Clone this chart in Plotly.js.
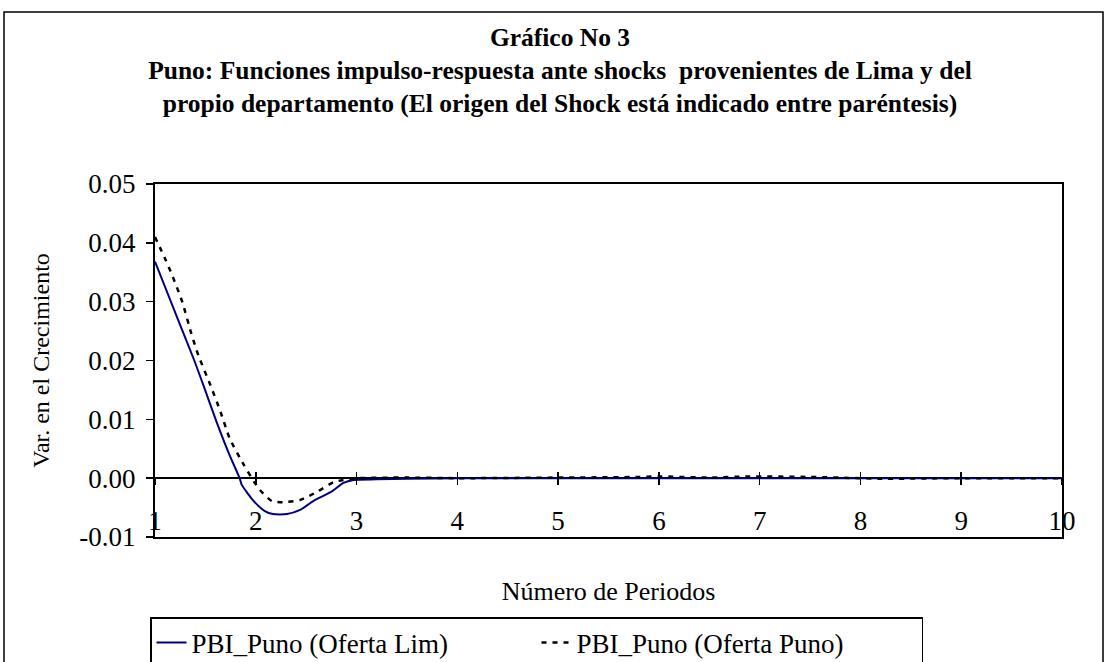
<!DOCTYPE html>
<html>
<head>
<meta charset="utf-8">
<script src="https://cdn.plot.ly/plotly-3.0.1.min.js"></script>
<style>html,body{margin:0;padding:0;background:#fff;}#chart{width:1107px;height:662px;}</style>
</head>
<body>
<div id="chart"></div>
<script>
// Data
const limaX = [1.00, 1.25, 1.39, 1.48, 1.61, 1.74, 1.84, 1.86, 1.98, 2.09, 2.17, 2.31, 2.44, 2.57, 2.75, 2.87, 2.97, 3.2, 3.5, 4, 5, 6, 7, 8, 9, 10];
const limaY = [0.0368, 0.0260, 0.0200, 0.0158, 0.0096, 0.0039, 0.0000, -0.0011, -0.0039, -0.0056, -0.0061, -0.0061, -0.0054, -0.0039, -0.0023, -0.0008, -0.0003, -0.0002, -0.0001, 0.0000, 0.0000, 0.0000, 0.0000, 0.0000, 0.0000, 0.0000];

const punoX = [1.00, 1.10, 1.17, 1.27, 1.36, 1.43, 1.55, 1.65, 1.74, 1.88, 1.99, 2.04, 2.16, 2.27, 2.44, 2.61, 2.77, 2.87, 3.00, 3.5, 4, 5, 5.8, 6.0, 6.5, 6.9, 7.5, 8, 8.2, 9, 10];
const punoY = [0.0410, 0.0373, 0.0345, 0.0300, 0.0246, 0.0209, 0.0158, 0.0113, 0.0068, 0.0023, -0.0008, -0.0020, -0.0039, -0.0041, -0.0037, -0.0023, -0.0007, -0.0003, 0.0000, 0.0001, 0.0000, 0.0001, 0.0002, 0.0003, 0.0001, 0.0003, 0.0002, 0.0000, -0.0001, 0.0000, 0.0000];

const seriesNames = ["PBI_Puno (Oferta Lim)", "PBI_Puno (Oferta Puno)"];
const xTickVals = [1, 2, 3, 4, 5, 6, 7, 8, 9, 10];
const xTickText = ["1", "2", "3", "4", "5", "6", "7", "8", "9", "10"];
const yTickVals = [-0.01, 0.00, 0.01, 0.02, 0.03, 0.04, 0.05];
const yTickText = ["-0.01", "0.00", "0.01", "0.02", "0.03", "0.04", "0.05"];
const xRange = [1, 10];
const yRange = [-0.01, 0.05];

const titleText = "<b>Gráfico No 3</b><br><b>Puno: Funciones impulso-respuesta ante shocks  provenientes de Lima y del</b><br><b>propio departamento (El origen del Shock está indicado entre paréntesis)</b>";
const xTitle = "Número de Periodos";
const yTitle = "Var. en el Crecimiento";

// Layout geometry
const W = 1107, H = 662;
const M = {l: 155, r: 45, t: 184, b: 125, autoexpand: false};
const PW = W - M.l - M.r, PH = H - M.t - M.b;
const px2x = p => (p - M.l) / PW;
const py2y = p => (H - M.b - p) / PH;

const FONT = "Liberation Serif, Times New Roman, serif";
const zeroPos = (0 - yRange[0]) / (yRange[1] - yRange[0]);

const traces = [
  {x: limaX, y: limaY, name: seriesNames[0], type: "scatter", mode: "lines",
   line: {color: "#000080", width: 2, shape: "spline", smoothing: 0.6}},
  {x: punoX, y: punoY, name: seriesNames[1], type: "scatter", mode: "lines",
   line: {color: "#000000", width: 2.5, dash: "5px,6px", shape: "spline", smoothing: 0.6}},
  {x: [], y: [], xaxis: "x2", showlegend: false, hoverinfo: "skip"},
  {x: [], y: [], xaxis: "x3", showlegend: false, hoverinfo: "skip"}
];

const baseTickAxis = {
  overlaying: "x", anchor: "free", position: zeroPos, side: "bottom",
  range: xRange, tickmode: "array", tickvals: xTickVals, ticktext: xTickText,
  showline: false, showgrid: false, zeroline: false,
  tickcolor: "#000", tickwidth: 1.5, ticklen: 6
};

const layout = {
  width: W, height: H,
  margin: M,
  paper_bgcolor: "#fff", plot_bgcolor: "#fff",
  font: {family: FONT, color: "#000", size: 22},
  showlegend: true,
  title: {text: titleText, font: {family: FONT, size: 25.5, color: "#000"},
          xref: "container", x: 560 / W, xanchor: "center",
          yref: "container", y: 1 - 46 / H, yanchor: "middle"},
  xaxis: {range: xRange, showline: true, mirror: true, linecolor: "#000", linewidth: 2,
          ticks: "", showticklabels: false, showgrid: false, zeroline: false,
          title: {text: xTitle, font: {size: 26}, standoff: 44}, automargin: false},
  xaxis2: Object.assign({}, baseTickAxis, {ticks: "outside", showticklabels: true,
          tickfont: {size: 27, family: FONT, color: "#000"}, ticklabelstandoff: 12}),
  xaxis3: Object.assign({}, baseTickAxis, {ticks: "inside", showticklabels: false}),
  yaxis: {range: yRange, showline: true, mirror: true, linecolor: "#000", linewidth: 2,
          tickmode: "array", tickvals: yTickVals, ticktext: yTickText,
          ticks: "outside", ticklen: 7, tickwidth: 1.5, tickcolor: "#000",
          tickfont: {size: 27, family: FONT, color: "#000"}, ticklabelstandoff: 5,
          showgrid: false, zeroline: true, zerolinecolor: "#000", zerolinewidth: 2,
          title: {text: yTitle, font: {size: 24}, standoff: 23}, automargin: false},
  legend: {orientation: "h", xref: "paper", yref: "paper",
           x: px2x(150), xanchor: "left", y: py2y(617), yanchor: "top",
           bordercolor: "#000", borderwidth: 1.5, bgcolor: "#fff",
           entrywidth: 340, entrywidthmode: "pixels",
           font: {size: 27, family: FONT, color: "#000"}},
  shapes: [
    {type: "rect", xref: "paper", yref: "paper",
     x0: px2x(4), x1: px2x(1103), y0: py2y(680), y1: py2y(12),
     line: {color: "#000", width: 1.5}, fillcolor: "rgba(0,0,0,0)", layer: "below"}
  ]
};

Plotly.newPlot("chart", traces, layout, {displayModeBar: false, staticPlot: true});
</script>
</body>
</html>
